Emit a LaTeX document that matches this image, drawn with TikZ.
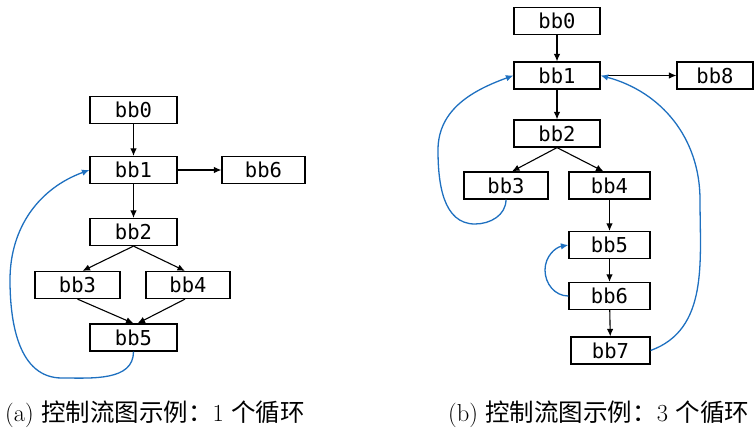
\documentclass[tikz,border=0pt]{standalone}
\usepackage{fontspec}
\newfontfamily\bbfont{DejaVu Sans Mono}
\newfontfamily\cjk{Noto Sans CJK SC}
\usetikzlibrary{arrows.meta}
\definecolor{loopblue}{RGB}{30,112,192}
\tikzset{
  bbox/.style={draw, line width=1.2pt, minimum height=27pt, inner sep=0pt,
    font=\bbfont\fontsize{20.5}{21}\selectfont},
  flow/.style={line width=1.1pt, -{Latex[length=7.5pt,width=6.5pt]}},
  back/.style={line width=1.3pt, loopblue, -{Latex[length=7.5pt,width=6.5pt]}},
  captext/.style={anchor=base west, inner sep=0pt, font=\fontsize{24.5}{26}\selectfont}
}
\begin{document}
\begin{tikzpicture}[x=1pt,y=-1pt]
\useasboundingbox (0,0) rectangle (754,432);
% ---------- (a) ----------
\node[bbox, minimum width=87pt] (a0) at (133.5,110) {bb0};
\node[bbox, minimum width=87pt] (a1) at (133.5,170) {bb1};
\node[bbox, minimum width=83pt] (a6) at (263.5,170) {bb6};
\node[bbox, minimum width=87pt] (a2) at (133.5,232) {bb2};
\node[bbox, minimum width=85pt] (a3) at (77.5,285) {bb3};
\node[bbox, minimum width=84pt] (a4) at (188,285) {bb4};
\node[bbox, minimum width=87pt] (a5) at (133.5,337.5) {bb5};
\draw[flow] (a0) -- (a1);
\draw[flow] (a1) -- (a2);
\draw[flow] (a1) -- (a6);
\draw[flow] (a2.south) -- ([xshift=5pt]a3.north);
\draw[flow] (a2.south) -- ([xshift=-3pt]a4.north);
\draw[flow] (a3.south) -- (a5.north);
\draw[flow] ([xshift=-3pt]a4.south) -- ([xshift=4pt]a5.north);
\coordinate (aL1) at (62,378);
\coordinate (aL2) at (10,280);
\draw[back] (a5.south) to[out=-90,in=0] (aL1) to[out=180,in=-90] (aL2)
  to[out=90,in=200] (a1.west);
% ---------- (b) ----------
\node[bbox, minimum width=86pt] (b0) at (557,21) {bb0};
\node[bbox, minimum width=86pt] (b1) at (557,75.5) {bb1};
\node[bbox, minimum width=76pt] (b8) at (715,75.5) {bb8};
\node[bbox, minimum width=86pt] (b2) at (557,133.5) {bb2};
\node[bbox, minimum width=84pt] (b3) at (506,185.5) {bb3};
\node[bbox, minimum width=81pt] (b4) at (609.5,185.5) {bb4};
\node[bbox, minimum width=81pt] (b5) at (609.5,245) {bb5};
\node[bbox, minimum width=81pt] (b6) at (609.5,296) {bb6};
\node[bbox, minimum width=79pt] (b7) at (610.5,350.5) {bb7};
\draw[flow] (b0) -- (b1);
\draw[flow] (b1) -- (b2);
\draw[flow] ([xshift=4pt]b1.east) -- (b8.west);
\draw[flow] (b2.south) -- ([xshift=6pt]b3.north);
\draw[flow] (b2.south) -- ([xshift=-6pt]b4.north);
\draw[flow] (b4) -- (b5);
\draw[flow] (b5) -- (b6);
\draw[flow] (b6) -- (b7);
\coordinate (bL1) at (475,224);
\coordinate (bL2) at (438,150);
\draw[back] (b3.south) to[out=-90,in=0] (bL1) to[out=180,in=-90] (bL2)
  to[out=90,in=200] (b1.west);
\coordinate (bM1) at (545,270);
\draw[back] (b6.west) to[out=180,in=-90] (bM1) to[out=90,in=190] (b5.west);
\coordinate (bR1) at (700,200);
\draw[back] (b7.east) to[out=20,in=-90] (bR1) to[out=90,in=-15] (b1.east);
% ---------- captions ----------
\node[captext] (capa) at (5,421) {(a) {\cjk 控制流图示例：}1 {\cjk 个循环}};
\node[captext] (capb) at (448,421) {(b) {\cjk 控制流图示例：}3 {\cjk 个循环}};
\end{tikzpicture}
\end{document}
